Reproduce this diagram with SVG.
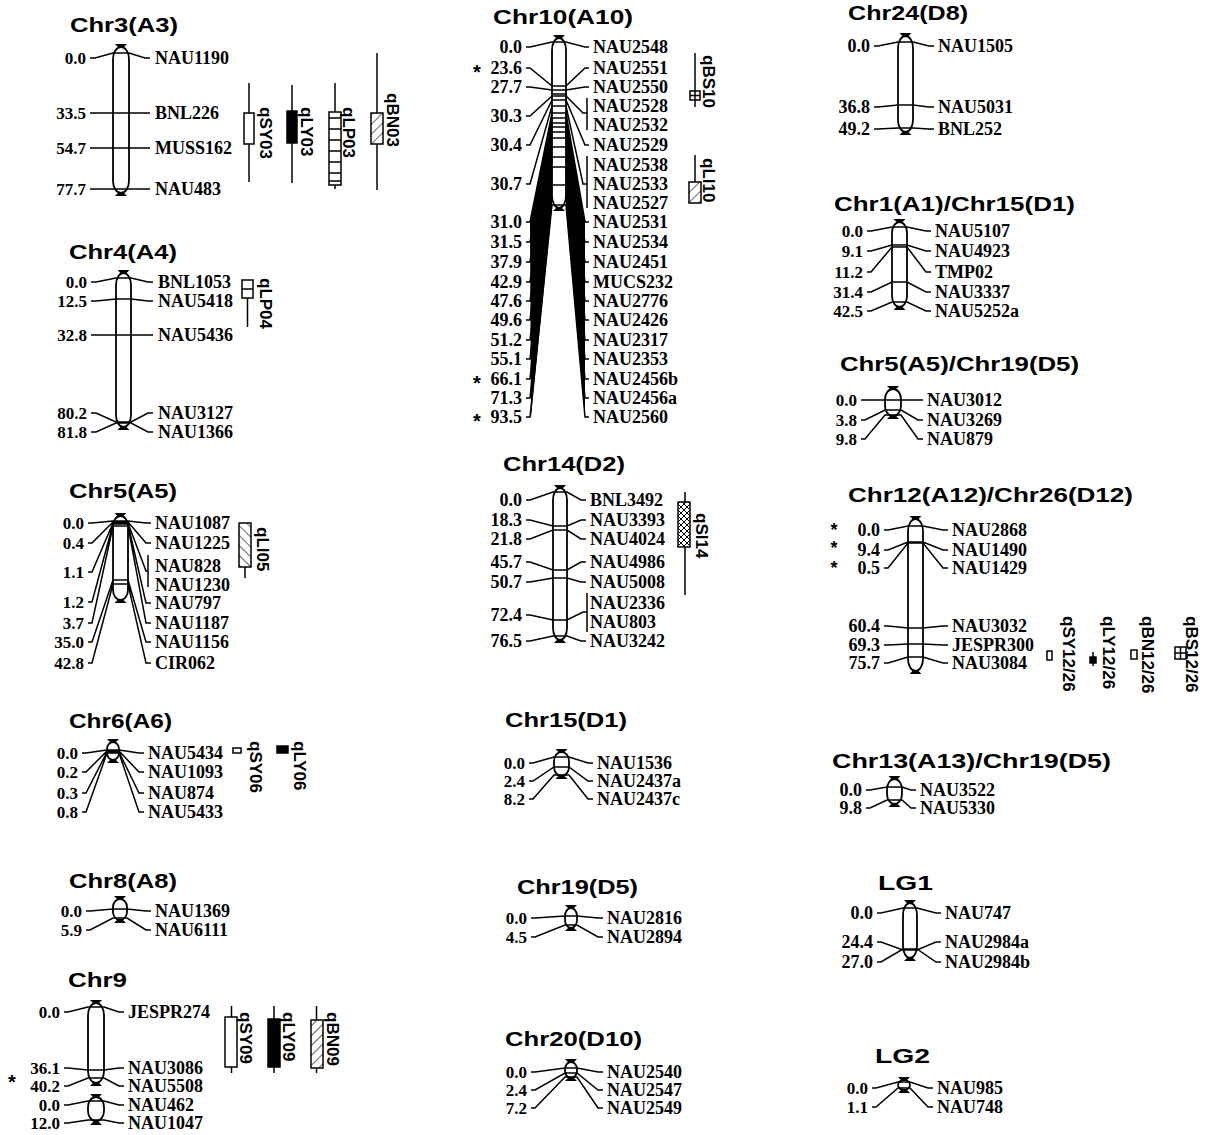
<svg xmlns="http://www.w3.org/2000/svg" width="1211" height="1135" viewBox="0 0 1211 1135">
<defs>
<style>
.t{font-family:"Liberation Sans",Arial,sans-serif;font-weight:bold;font-size:20px;fill:#000}
.n{font-family:"Liberation Serif","Times New Roman",serif;font-weight:bold;text-anchor:end;fill:#000}
.m{font-family:"Liberation Serif","Times New Roman",serif;font-weight:bold;fill:#000}
.q{font-family:"Liberation Sans",Arial,sans-serif;font-weight:bold;font-size:17px;fill:#000}
.s{font-family:"Liberation Sans",Arial,sans-serif;font-weight:bold;font-size:20px;text-anchor:middle;fill:#000}
.bar{fill:#fff;stroke:#000;stroke-width:1.8}
.cap{fill:#000}
.ln{fill:none;stroke:#000;stroke-width:1.5}
.qb{stroke:#000;stroke-width:1.5}
.w{fill:#fff}
.k{fill:#000}
.wedge{fill:#000;stroke:none}
</style>
<pattern id="hf" width="7" height="7" patternUnits="userSpaceOnUse" patternTransform="rotate(45)"><rect width="7" height="7" fill="#fff"/><line x1="0" y1="0" x2="0" y2="7" stroke="#000" stroke-width="1.2"/></pattern>
<pattern id="hb" width="7" height="7" patternUnits="userSpaceOnUse" patternTransform="rotate(-45)"><rect width="7" height="7" fill="#fff"/><line x1="0" y1="0" x2="0" y2="7" stroke="#000" stroke-width="1.2"/></pattern>
<pattern id="hx" width="6" height="6" patternUnits="userSpaceOnUse"><rect width="6" height="6" fill="#fff"/><path d="M0 0L6 6M6 0L0 6" stroke="#000" stroke-width="1"/></pattern>
</defs>
<rect width="1211" height="1135" fill="#fff"/>

<!-- Chr3 -->
<g id="chr3">
<text class="t" x="70" y="32" textLength="108" lengthAdjust="spacingAndGlyphs">Chr3(A3)</text>
<rect class="bar" x="113" y="47" width="16" height="146" rx="8" ry="12"/>
<path class="cap" d="M115 44h12l-4 4h-4z M115 196h12l-4-4h-4z"/>
<g class="n" font-size="17"><text x="86" y="64">0.0</text><text x="86" y="119">33.5</text><text x="86" y="154">54.7</text><text x="86" y="195">77.7</text></g>
<g class="m" font-size="18"><text x="155" y="64">NAU1190</text><text x="155" y="119">BNL226</text><text x="155" y="154">MUSS162</text><text x="155" y="195">NAU483</text></g>
</g>
<g id="qSY03"><path class="qb" d="M249 83V182"/><rect class="qb w" x="244" y="113" width="10" height="31"/><text class="q" transform="translate(260,107) rotate(90)">qSY03</text></g>
<g id="qLY03"><path class="qb" d="M292 85V183"/><rect class="qb k" x="287" y="111" width="10" height="32"/><text class="q" transform="translate(301,107) rotate(90)">qLY03</text></g>
<g id="qLP03"><path class="qb" d="M335 83V189"/><rect class="qb w" x="329" y="112" width="12" height="73"/><path class="qb" d="M329 118H341M329 129H341M329 140H341M329 151H341M329 162H341M329 173H341M329 181H341"/><text class="q" transform="translate(343,107) rotate(90)">qLP03</text></g>
<g id="qBN03"><path class="qb" d="M377 53V190"/><rect class="qb" fill="url(#hf)" x="371" y="113" width="12" height="31"/><text class="q" transform="translate(387,93) rotate(90)">qBN03</text></g>

<!-- Chr4 -->
<g id="chr4">
<text class="t" x="69" y="259" textLength="108" lengthAdjust="spacingAndGlyphs">Chr4(A4)</text>
<rect class="bar" x="116" y="273" width="15" height="154" rx="7.5" ry="12"/>
<path class="cap" d="M117.5 270h12l-4 4h-4z M117.5 430h12l-4-4h-4z"/>
<g class="n" font-size="17"><text x="87" y="288">0.0</text><text x="87" y="307">12.5</text><text x="87" y="341">32.8</text><text x="87" y="419">80.2</text><text x="87" y="438">81.8</text></g>
<g class="m" font-size="18"><text x="158" y="288">BNL1053</text><text x="158" y="307">NAU5418</text><text x="158" y="341">NAU5436</text><text x="158" y="419">NAU3127</text><text x="158" y="438">NAU1366</text></g>
</g>
<g id="qLP04"><path class="qb" d="M247.5 298V327"/><rect class="qb w" x="242" y="280" width="11" height="18"/><path class="qb" d="M242 289H253"/><text class="q" transform="translate(260,278) rotate(90)">qLP04</text></g>

<!-- Chr5 -->
<g id="chr5">
<text class="t" x="69" y="498" textLength="108" lengthAdjust="spacingAndGlyphs">Chr5(A5)</text>
<rect class="bar" x="113" y="516" width="15" height="84" rx="7.5" ry="10"/>
<path class="cap" d="M114.5 513h12l-4 4h-4z M114.5 603h12l-4-4h-4z"/>
<g class="n" font-size="17"><text x="84" y="529">0.0</text><text x="84" y="549">0.4</text><text x="84" y="578">1.1</text><text x="84" y="608">1.2</text><text x="84" y="629">3.7</text><text x="84" y="648">35.0</text><text x="84" y="669">42.8</text></g>
<g class="m" font-size="18"><text x="155" y="529">NAU1087</text><text x="155" y="549">NAU1225</text><text x="155" y="572">NAU828</text><text x="155" y="591">NAU1230</text><text x="155" y="609">NAU797</text><text x="155" y="629">NAU1187</text><text x="155" y="648">NAU1156</text><text x="155" y="669">CIR062</text></g>
</g>
<g id="qLI05"><path class="qb" d="M245 567V578"/><rect class="qb" fill="url(#hb)" x="239" y="523" width="12" height="44"/><text class="q" transform="translate(257,527) rotate(90)">qLI05</text></g>

<!-- Chr6 -->
<g id="chr6">
<text class="t" x="69" y="728" textLength="103" lengthAdjust="spacingAndGlyphs">Chr6(A6)</text>
<rect class="bar" x="107" y="742" width="12" height="18" rx="6" ry="7"/>
<path class="cap" d="M107 739h12l-4 4h-4z M107 763h12l-4-4h-4z"/>
<g class="n" font-size="17"><text x="78" y="759">0.0</text><text x="78" y="778">0.2</text><text x="78" y="799">0.3</text><text x="78" y="818">0.8</text></g>
<g class="m" font-size="18"><text x="148" y="759">NAU5434</text><text x="148" y="778">NAU1093</text><text x="148" y="799">NAU874</text><text x="148" y="818">NAU5433</text></g>
</g>
<g id="qSY06"><rect class="qb w" x="233" y="748" width="8" height="5"/><text class="q" transform="translate(250,741) rotate(90)">qSY06</text></g>
<g id="qLY06"><rect class="qb k" x="277" y="746" width="11" height="7"/><text class="q" transform="translate(294,741) rotate(90)">qLY06</text></g>

<!-- Chr8 -->
<g id="chr8">
<text class="t" x="69" y="888" textLength="108" lengthAdjust="spacingAndGlyphs">Chr8(A8)</text>
<rect class="bar" x="113" y="899" width="14" height="21" rx="7" ry="8"/>
<path class="cap" d="M114 896h12l-4 4h-4z M114 923h12l-4-4h-4z"/>
<g class="n" font-size="17"><text x="82" y="917">0.0</text><text x="82" y="936">5.9</text></g>
<g class="m" font-size="18"><text x="155" y="917">NAU1369</text><text x="155" y="936">NAU6111</text></g>
</g>

<!-- Chr9 -->
<g id="chr9">
<text class="t" x="68" y="987" textLength="59" lengthAdjust="spacingAndGlyphs">Chr9</text>
<rect class="bar" x="88" y="1003" width="16" height="80" rx="8" ry="12"/>
<path class="cap" d="M90 1000h12l-4 4h-4z M90 1086h12l-4-4h-4z"/>
<rect class="bar" x="88" y="1097" width="16" height="24" rx="8" ry="10"/>
<path class="cap" d="M90 1094h12l-4 4h-4z M90 1125h12l-4-4h-4z"/>
<g class="n" font-size="17"><text x="60" y="1018">0.0</text><text x="60" y="1074">36.1</text><text x="60" y="1092">40.2</text><text x="60" y="1111">0.0</text><text x="60" y="1129">12.0</text></g>
<g class="m" font-size="18"><text x="128" y="1018">JESPR274</text><text x="128" y="1074">NAU3086</text><text x="128" y="1092">NAU5508</text><text x="128" y="1111">NAU462</text><text x="128" y="1129">NAU1047</text></g>
<text class="s" x="12" y="1089">*</text>
</g>
<g id="qSY09"><path class="qb" d="M231.5 1006V1073"/><rect class="qb w" x="225" y="1017" width="12" height="50"/><text class="q" transform="translate(240,1012) rotate(90)">qSY09</text></g>
<g id="qLY09"><path class="qb" d="M274 1006V1073"/><rect class="qb k" x="268" y="1019" width="12" height="48"/><text class="q" transform="translate(283,1012) rotate(90)">qLY09</text></g>
<g id="qBN09"><path class="qb" d="M316.5 1006V1073"/><rect class="qb" fill="url(#hf)" x="311" y="1020" width="12" height="48"/><text class="q" transform="translate(327,1012) rotate(90)">qBN09</text></g>

<!-- Chr10 -->
<g id="chr10">
<text class="t" x="493" y="24" textLength="140" lengthAdjust="spacingAndGlyphs">Chr10(A10)</text>
<rect class="bar" x="552" y="38" width="14" height="170" rx="7" ry="12"/>
<path class="cap" d="M553 35h12l-4 4h-4z M553 211h12l-4-4h-4z"/>
<g class="n" font-size="18"><text x="522" y="53">0.0</text><text x="522" y="74">23.6</text><text x="522" y="93">27.7</text><text x="522" y="122">30.3</text><text x="522" y="151">30.4</text><text x="522" y="190">30.7</text><text x="522" y="228">31.0</text><text x="522" y="248">31.5</text><text x="522" y="268">37.9</text><text x="522" y="288">42.9</text><text x="522" y="307">47.6</text><text x="522" y="326">49.6</text><text x="522" y="346">51.2</text><text x="522" y="365">55.1</text><text x="522" y="385">66.1</text><text x="522" y="404">71.3</text><text x="522" y="423">93.5</text></g>
<g class="m" font-size="18"><text x="593" y="53">NAU2548</text><text x="593" y="74">NAU2551</text><text x="593" y="93">NAU2550</text><text x="593" y="112">NAU2528</text><text x="593" y="131">NAU2532</text><text x="593" y="151">NAU2529</text><text x="593" y="171">NAU2538</text><text x="593" y="190">NAU2533</text><text x="593" y="209">NAU2527</text><text x="593" y="228">NAU2531</text><text x="593" y="248">NAU2534</text><text x="593" y="268">NAU2451</text><text x="593" y="288">MUCS232</text><text x="593" y="307">NAU2776</text><text x="593" y="326">NAU2426</text><text x="593" y="346">NAU2317</text><text x="593" y="365">NAU2353</text><text x="593" y="385">NAU2456b</text><text x="593" y="404">NAU2456a</text><text x="593" y="423">NAU2560</text></g>
<text class="s"><tspan x="477" y="79">*</tspan><tspan x="477" y="390">*</tspan><tspan x="477" y="428">*</tspan></text>
</g>
<g id="qBS10"><path class="qb" d="M695 53V107"/><rect class="qb w" x="690" y="91" width="10" height="9"/><path class="qb" d="M695 91V100M690 95.5H700"/><text class="q" transform="translate(703,55) rotate(90)">qBS10</text></g>
<g id="qLI10"><path class="qb" d="M695 155V182"/><rect class="qb" fill="url(#hf)" x="689" y="182" width="12" height="21"/><text class="q" transform="translate(703,158) rotate(90)">qLI10</text></g>

<!-- Chr14 -->
<g id="chr14">
<text class="t" x="503" y="471" textLength="122" lengthAdjust="spacingAndGlyphs">Chr14(D2)</text>
<rect class="bar" x="553" y="488" width="14" height="152" rx="7" ry="12"/>
<path class="cap" d="M554 485h12l-4 4h-4z M554 643h12l-4-4h-4z"/>
<g class="n" font-size="18"><text x="522" y="506">0.0</text><text x="522" y="526">18.3</text><text x="522" y="545">21.8</text><text x="522" y="568">45.7</text><text x="522" y="588">50.7</text><text x="522" y="621">72.4</text><text x="522" y="647">76.5</text></g>
<g class="m" font-size="18"><text x="590" y="506">BNL3492</text><text x="590" y="526">NAU3393</text><text x="590" y="545">NAU4024</text><text x="590" y="568">NAU4986</text><text x="590" y="588">NAU5008</text><text x="590" y="609">NAU2336</text><text x="590" y="628">NAU803</text><text x="590" y="647">NAU3242</text></g>
</g>
<g id="qSI14"><path class="qb" d="M685 492V595"/><rect class="qb" fill="url(#hx)" x="678" y="502" width="12" height="45"/><text class="q" transform="translate(696,513) rotate(90)">qSI14</text></g>

<!-- Chr15 -->
<g id="chr15">
<text class="t" x="505" y="727" textLength="122" lengthAdjust="spacingAndGlyphs">Chr15(D1)</text>
<rect class="bar" x="554" y="752" width="15" height="24" rx="7.5" ry="9"/>
<path class="cap" d="M555.5 749h12l-4 4h-4z M555.5 779h12l-4-4h-4z"/>
<g class="n" font-size="17"><text x="525" y="769">0.0</text><text x="525" y="787">2.4</text><text x="525" y="805">8.2</text></g>
<g class="m" font-size="18"><text x="597" y="769">NAU1536</text><text x="597" y="787">NAU2437a</text><text x="597" y="805">NAU2437c</text></g>
</g>

<!-- Chr19 middle -->
<g id="chr19">
<text class="t" x="517" y="894" textLength="121" lengthAdjust="spacingAndGlyphs">Chr19(D5)</text>
<rect class="bar" x="565" y="908" width="12" height="20" rx="6" ry="8"/>
<path class="cap" d="M565 905h12l-4 4h-4z M565 931h12l-4-4h-4z"/>
<g class="n" font-size="17"><text x="527" y="924">0.0</text><text x="527" y="943">4.5</text></g>
<g class="m" font-size="18"><text x="607" y="924">NAU2816</text><text x="607" y="943">NAU2894</text></g>
</g>

<!-- Chr20 -->
<g id="chr20">
<text class="t" x="505" y="1046" textLength="137" lengthAdjust="spacingAndGlyphs">Chr20(D10)</text>
<rect class="bar" x="565" y="1062" width="12" height="16" rx="6" ry="7"/>
<path class="cap" d="M565 1059h12l-4 4h-4z M565 1081h12l-4-4h-4z"/>
<g class="n" font-size="17"><text x="527" y="1078">0.0</text><text x="527" y="1096">2.4</text><text x="527" y="1114">7.2</text></g>
<g class="m" font-size="18"><text x="607" y="1078">NAU2540</text><text x="607" y="1096">NAU2547</text><text x="607" y="1114">NAU2549</text></g>
</g>

<!-- Chr24 -->
<g id="chr24">
<text class="t" x="848" y="20" textLength="120" lengthAdjust="spacingAndGlyphs">Chr24(D8)</text>
<rect class="bar" x="898" y="36" width="15" height="96" rx="7.5" ry="12"/>
<path class="cap" d="M899.5 33h12l-4 4h-4z M899.5 135h12l-4-4h-4z"/>
<g class="n" font-size="18"><text x="870" y="52">0.0</text><text x="870" y="113">36.8</text><text x="870" y="135">49.2</text></g>
<g class="m" font-size="18"><text x="938" y="52">NAU1505</text><text x="938" y="113">NAU5031</text><text x="938" y="135">BNL252</text></g>
</g>

<!-- Chr1/Chr15 -->
<g id="chr1_15">
<text class="t" x="834" y="211" textLength="241" lengthAdjust="spacingAndGlyphs">Chr1(A1)/Chr15(D1)</text>
<rect class="bar" x="892" y="222" width="15" height="85" rx="7.5" ry="11"/>
<path class="cap" d="M893.5 219h12l-4 4h-4z M893.5 310h12l-4-4h-4z"/>
<g class="n" font-size="17"><text x="863" y="237">0.0</text><text x="863" y="257">9.1</text><text x="863" y="278">11.2</text><text x="863" y="298">31.4</text><text x="863" y="317">42.5</text></g>
<g class="m" font-size="18"><text x="935" y="237">NAU5107</text><text x="935" y="257">NAU4923</text><text x="935" y="278">TMP02</text><text x="935" y="298">NAU3337</text><text x="935" y="317">NAU5252a</text></g>
</g>

<!-- Chr5/Chr19 -->
<g id="chr5_19">
<text class="t" x="840" y="371" textLength="239" lengthAdjust="spacingAndGlyphs">Chr5(A5)/Chr19(D5)</text>
<rect class="bar" x="885" y="389" width="16" height="27" rx="8" ry="10"/>
<path class="cap" d="M887 386h12l-4 4h-4z M887 419h12l-4-4h-4z"/>
<g class="n" font-size="17"><text x="857" y="406">0.0</text><text x="857" y="426">3.8</text><text x="857" y="445">9.8</text></g>
<g class="m" font-size="18"><text x="927" y="406">NAU3012</text><text x="927" y="426">NAU3269</text><text x="927" y="445">NAU879</text></g>
</g>

<!-- Chr12/Chr26 -->
<g id="chr12_26">
<text class="t" x="848" y="502" textLength="285" lengthAdjust="spacingAndGlyphs">Chr12(A12)/Chr26(D12)</text>
<rect class="bar" x="908" y="519" width="15" height="152" rx="7.5" ry="12"/>
<path class="cap" d="M909.5 516h12l-4 4h-4z M909.5 674h12l-4-4h-4z"/>
<g class="n" font-size="18"><text x="880" y="536">0.0</text><text x="880" y="556">9.4</text><text x="880" y="574">0.5</text><text x="880" y="632">60.4</text><text x="880" y="651">69.3</text><text x="880" y="669">75.7</text></g>
<g class="m" font-size="18"><text x="952" y="536">NAU2868</text><text x="952" y="556">NAU1490</text><text x="952" y="574">NAU1429</text><text x="952" y="632">NAU3032</text><text x="952" y="651">JESPR300</text><text x="952" y="669">NAU3084</text></g>
<text class="s" font-size="18" style="font-size:18px"><tspan x="834" y="536">*</tspan><tspan x="834" y="554">*</tspan><tspan x="834" y="574">*</tspan></text>
</g>
<g id="qSY12_26"><rect class="qb w" x="1047" y="651" width="5" height="9"/><text class="q" transform="translate(1063,616) rotate(90)">qSY12/26</text></g>
<g id="qLY12_26"><path class="qb" d="M1093 652V666"/><rect class="qb k" x="1090" y="657" width="6" height="6"/><text class="q" transform="translate(1103,616) rotate(90)">qLY12/26</text></g>
<g id="qBN12_26"><rect class="qb w" x="1131" y="650" width="6" height="9"/><text class="q" transform="translate(1142,616) rotate(90)">qBN12/26</text></g>
<g id="qBS12_26"><rect class="qb w" x="1175" y="647" width="11" height="12"/><path class="qb" d="M1180.5 647V659M1175 653H1186"/><text class="q" transform="translate(1186,616) rotate(90)">qBS12/26</text></g>

<!-- Chr13/Chr19 -->
<g id="chr13_19">
<text class="t" x="832" y="768" textLength="279" lengthAdjust="spacingAndGlyphs">Chr13(A13)/Chr19(D5)</text>
<rect class="bar" x="887" y="779" width="15" height="25" rx="7.5" ry="10"/>
<path class="cap" d="M888.5 776h12l-4 4h-4z M888.5 807h12l-4-4h-4z"/>
<g class="n" font-size="18"><text x="862" y="796">0.0</text><text x="862" y="814">9.8</text></g>
<g class="m" font-size="18"><text x="920" y="796">NAU3522</text><text x="920" y="814">NAU5330</text></g>
</g>

<!-- LG1 -->
<g id="lg1">
<text class="t" x="878" y="890" textLength="55" lengthAdjust="spacingAndGlyphs">LG1</text>
<rect class="bar" x="903" y="903" width="14" height="55" rx="7" ry="12"/>
<path class="cap" d="M904 900h12l-4 4h-4z M904 961h12l-4-4h-4z"/>
<g class="n" font-size="18"><text x="873" y="919">0.0</text><text x="873" y="948">24.4</text><text x="873" y="968">27.0</text></g>
<g class="m" font-size="18"><text x="945" y="919">NAU747</text><text x="945" y="948">NAU2984a</text><text x="945" y="968">NAU2984b</text></g>
</g>

<!-- LG2 -->
<g id="lg2">
<text class="t" x="875" y="1063" textLength="55" lengthAdjust="spacingAndGlyphs">LG2</text>
<rect class="bar" x="898" y="1080" width="12" height="10" rx="6" ry="5"/>
<path class="cap" d="M898 1077h12l-4 4h-4z M898 1093h12l-4-4h-4z"/>
<g class="n" font-size="17"><text x="868" y="1094">0.0</text><text x="868" y="1113">1.1</text></g>
<g class="m" font-size="18"><text x="937" y="1094">NAU985</text><text x="937" y="1113">NAU748</text></g>
</g>

<!-- connectors: marker lines -->
<g id="connectors">
<path class="ln" d="M90 58H95L113 53H129L145 58H150M90 113H150M90 148H150M90 189H150"/>
<path class="ln" d="M91 282H96L116 278H131L148 282H153M91 301H96L116 299H131L148 301H153M91 335H153M91 413H96L116 422H131L148 413H153M91 432H96L116 423H131L148 432H153"/>
<path class="ln" d="M88 523H92L113 521H128L146 523H151M88 543H92L113 522H128L146 543H151M88 572H92L113 523H128L146 571H148M148 555V587M88 602H92L113 524H128L146 603H151M88 623H92L113 526H128L146 623H151M88 642H92L113 580H128L146 642H151M88 663H92L113 584H128L146 663H151"/>
<path class="ln" d="M82 753H86L107 750H119L139 753H144M82 772H86L107 751H119L139 772H144M82 793H86L107 752H119L139 793H144M82 812H86L107 753H119L139 812H144"/>
<path class="ln" d="M86 911H90L113 909H127L146 911H151M86 930H90L113 918H127L146 930H151"/>
<path class="ln" d="M64 1012H68L88 1007H104L119 1012H124M64 1068H68L88 1070H104L119 1068H124M64 1086H68L88 1078H104L119 1086H124M64 1105H68L88 1101H104L119 1105H124M64 1123H68L88 1120H104L119 1123H124"/>
<polygon class="wedge" points="530,222 552,113 552,207 531,417"/>
<polygon class="wedge" points="566,113 585,222 585,417 566,207"/>
<path class="ln" d="M526 47H530L552 42H566L585 47H589M526 68H530L552 86H566L585 68H589M526 87H530L552 90H566L585 87H589M526 116H530L552 96H566L583 113H587M587 98V130M552 94H566M526 145H530L552 100H566L585 145H589M526 184H530L552 106H566L583 184H587M587 156V208M526 222H530L552 113H566L585 222H589M526 242H530L552 118H566L585 242H589M526 262H530L552 123H566L585 262H589M526 282H530L552 127H566L585 282H589M526 301H530L552 132H566L585 301H589M526 320H530L552 138H566L585 320H589M526 340H530L552 147H566L585 340H589M526 359H530L552 157H566L585 359H589M526 379H530L552 167H566L585 379H589M526 398H530L552 185H566L585 398H589M526 417H530L552 205H566L585 417H589"/>
<path class="ln" d="M526 500H530L553 492H567L581 500H586M526 520H530L553 526H567L581 520H586M526 539H530L553 530H567L581 539H586M526 562H530L553 570H567L581 562H586M526 582H530L553 578H567L581 582H586M526 615H530L553 620H567L583 612H587M587 593V632M526 641H530L553 636H567L581 641H586"/>
<path class="ln" d="M529 763H533L554 757H569L588 763H593M529 781H533L554 767H569L588 781H593M529 799H533L554 775H569L588 799H593"/>
<path class="ln" d="M531 918H535L565 916H577L598 918H603M531 937H535L565 925H577L598 937H603"/>
<path class="ln" d="M531 1072H535L565 1068H577L598 1072H603M531 1090H535L565 1073H577L598 1090H603M531 1108H535L565 1077H577L598 1108H603"/>
<path class="ln" d="M874 46H878L898 42H913L929 46H934M874 107H878L898 105H913L929 107H934M874 129H878L898 128H913L929 129H934"/>
<path class="ln" d="M867 231H871L892 227H907L926 231H931M867 251H871L892 245H907L926 251H931M867 272H871L892 247H907L926 272H931M867 292H871L892 282H907L926 292H931M867 311H871L892 302H907L926 311H931"/>
<path class="ln" d="M861 400H923M861 420H865L885 410H901L918 420H923M861 439H865L885 415H901L918 439H923"/>
<path class="ln" d="M884 530H888L908 526H923L943 530H948M884 550H888L908 542H923L943 550H948M884 568H888L908 543H923L943 568H948M884 626H888L908 628H923L943 626H948M884 645H888L908 644H923L943 645H948M884 663H888L908 657H923L943 663H948"/>
<path class="ln" d="M866 790H870L887 787H902L911 790H916M866 808H870L887 800H902L911 808H916"/>
<path class="ln" d="M877 913H881L903 908H917L936 913H941M877 942H881L903 950H917L936 942H941M877 962H881L903 949H917L936 962H941"/>
<path class="ln" d="M872 1088H876L898 1082H910L928 1088H933M872 1107H876L898 1088H910L928 1107H933"/>
</g>
</svg>
